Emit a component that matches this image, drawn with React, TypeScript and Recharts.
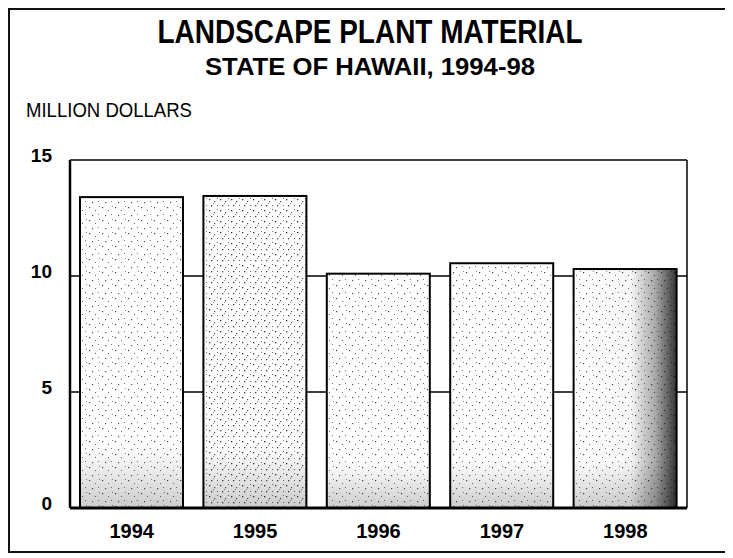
import React from "react";
import { BarChart, Bar, XAxis, YAxis, CartesianGrid } from "recharts";

const years = ["1994", "1995", "1996", "1997", "1998"];
const values = [13.4, 13.45, 10.1, 10.55, 10.3];
const yTicks = [0, 5, 10, 15];

const data = years.map((year, i) => ({ year, value: values[i] }));

const SANS = "'Liberation Sans', Arial, sans-serif";

const StippleBar = (props: any) => {
  const { x, y, width, height, index } = props;
  return (
    <g>
      <rect x={x} y={y} width={width} height={height} fill="#fff" />
      <rect x={x} y={y} width={width} height={height} fill={index === 1 ? "url(#stippleDense)" : "url(#stipple)"} />
      <rect x={x} y={y} width={width} height={height} fill="url(#bottomShade)" />
      {index === 4 && <rect x={x} y={y} width={width} height={height} fill="url(#rightShade)" />}
      <rect x={x} y={y} width={width} height={height} fill="none" stroke="#000" strokeWidth={2} />
    </g>
  );
};

const YTick = (props: any) => {
  const { x, y, payload } = props;
  return (
    <text x={x} y={y - 5} textAnchor="end" dominantBaseline="central" fontFamily={SANS} fontWeight="bold" fontSize={19} fill="#000">
      {payload.value}
    </text>
  );
};

const XTick = (props: any) => {
  const { x, y, payload } = props;
  return (
    <text x={x} y={y + 30} textAnchor="middle" fontFamily={SANS} fontWeight="bold" fontSize={20} fill="#000">
      {payload.value}
    </text>
  );
};

const App: React.FC = () => {
  return (
    <div
      style={{
        position: "relative",
        width: 719,
        height: 545,
        border: "2px solid #111",
        boxSizing: "border-box",
        background: "#fff",
      }}
    >
      <svg width={715} height={150} style={{ position: "absolute", left: 0, top: 0, pointerEvents: "none" }}>
        <defs>
          <pattern id="stipple" patternUnits="userSpaceOnUse" width={13} height={13}>
            <rect x={1} y={2} width={1.2} height={1.2} fill="#444" />
            <rect x={7} y={5} width={1} height={1} fill="#666" />
            <rect x={4} y={10} width={1.2} height={1.2} fill="#555" />
            <rect x={10} y={9} width={1} height={1} fill="#777" />
            <rect x={11} y={1} width={1} height={1} fill="#888" />
          </pattern>
          <pattern id="stippleDense" patternUnits="userSpaceOnUse" width={11} height={11}>
            <rect x={1} y={2} width={1.3} height={1.3} fill="#333" />
            <rect x={6} y={4} width={1.2} height={1.2} fill="#555" />
            <rect x={3} y={8} width={1.3} height={1.3} fill="#444" />
            <rect x={9} y={8} width={1} height={1} fill="#666" />
            <rect x={9} y={1} width={1} height={1} fill="#777" />
            <rect x={5} y={6} width={1} height={1} fill="#888" />
          </pattern>
          <linearGradient id="bottomShade" x1="0" y1="0" x2="0" y2="1">
            <stop offset="0" stopColor="#000" stopOpacity={0} />
            <stop offset="0.8" stopColor="#000" stopOpacity={0} />
            <stop offset="1" stopColor="#000" stopOpacity={0.2} />
          </linearGradient>
          <linearGradient id="rightShade" x1="0" y1="0" x2="1" y2="0">
            <stop offset="0" stopColor="#000" stopOpacity={0} />
            <stop offset="0.55" stopColor="#000" stopOpacity={0.03} />
            <stop offset="0.8" stopColor="#000" stopOpacity={0.35} />
            <stop offset="1" stopColor="#000" stopOpacity={0.8} />
          </linearGradient>
        </defs>
        <text
          x={360}
          y={33}
          textAnchor="middle"
          fontFamily={SANS}
          fontWeight="bold"
          fontSize={34}
          textLength={425}
          lengthAdjust="spacingAndGlyphs"
          fill="#000"
        >
          LANDSCAPE PLANT MATERIAL
        </text>
        <text
          x={360}
          y={65}
          textAnchor="middle"
          fontFamily={SANS}
          fontWeight="bold"
          fontSize={24}
          textLength={330}
          lengthAdjust="spacingAndGlyphs"
          fill="#000"
        >
          STATE OF HAWAII, 1994-98
        </text>
        <text x={16} y={107} fontFamily={SANS} fontSize={21} textLength={166} lengthAdjust="spacingAndGlyphs" fill="#000">
          MILLION DOLLARS
        </text>
      </svg>
      <div style={{ position: "absolute", left: 0, top: 0 }}>
        <BarChart
          width={715}
          height={541}
          data={data}
          margin={{ top: 150, right: 37, bottom: 13, left: 20 }}
        >
          <CartesianGrid yAxisId="left" vertical={false} stroke="#000" strokeWidth={1.5} strokeOpacity={1} />
          <XAxis
            dataKey="year"
            height={30}
            tickLine={false}
            tickSize={0}
            tickMargin={0}
            axisLine={{ stroke: "#000", strokeWidth: 3 }}
            tick={<XTick />}
          />
          <YAxis
            yAxisId="left"
            width={40}
            domain={[0, 15]}
            ticks={yTicks}
            tickLine={false}
            tickSize={0}
            tickMargin={18}
            axisLine={{ stroke: "#000", strokeWidth: 2.5 }}
            tick={<YTick />}
          />
          <YAxis
            yAxisId="right"
            orientation="right"
            width={1}
            domain={[0, 15]}
            tick={false}
            tickLine={false}
            axisLine={{ stroke: "#000", strokeWidth: 1.5 }}
          />
          <Bar
            yAxisId="left"
            dataKey="value"
            barSize={103}
            shape={<StippleBar />}
            isAnimationActive={false}
          />
        </BarChart>
      </div>
    </div>
  );
};

export default App;
